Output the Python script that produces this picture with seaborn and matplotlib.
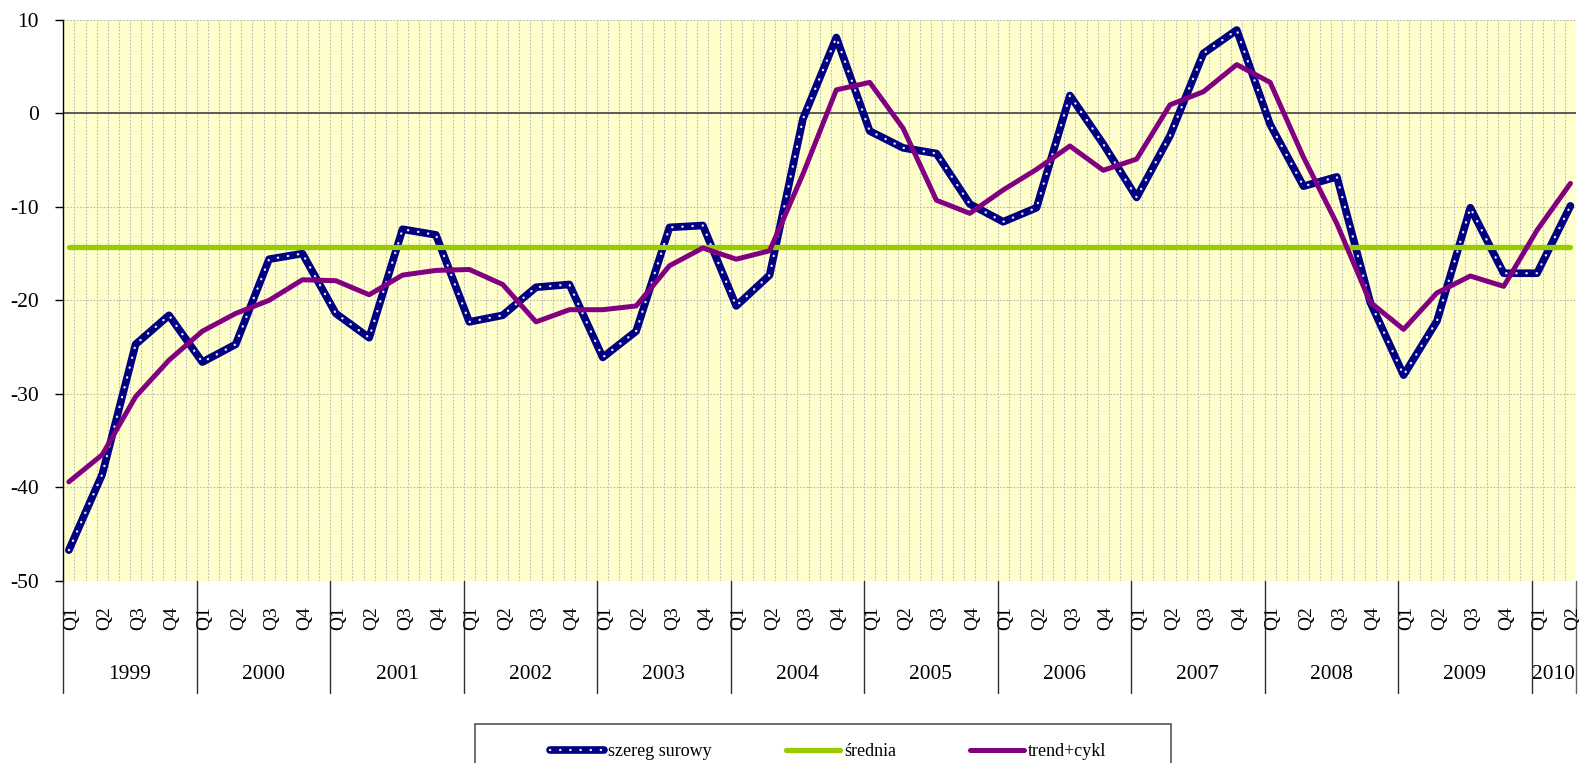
import matplotlib
matplotlib.use("Agg")
import matplotlib.pyplot as plt
from matplotlib.lines import Line2D
from matplotlib.patches import Rectangle
import numpy as np
import pandas as pd
import seaborn as sns

# ---------------- data ----------------
years = ["1999", "2000", "2001", "2002", "2003", "2004", "2005",
         "2006", "2007", "2008", "2009", "2010"]
quarters = ["Q1", "Q2", "Q3", "Q4"]

szereg_surowy = [-46.7, -38.6, -24.7, -21.6,
                 -26.6, -24.7, -15.6, -15.0,
                 -21.4, -24.0, -12.4, -13.0,
                 -22.3, -21.6, -18.6, -18.3,
                 -26.1, -23.3, -12.2, -12.0,
                 -20.6, -17.3, -0.6, 8.1,
                 -1.9, -3.7, -4.3, -9.7,
                 -11.6, -10.1, 1.9, -3.3,
                 -9.0, -2.4, 6.4, 8.9,
                 -1.2, -7.8, -6.8, -20.2,
                 -28.0, -22.2, -10.1, -17.1,
                 -17.1, -9.9]

trend_cykl = [-39.4, -36.5, -30.3, -26.4,
              -23.3, -21.4, -20.0, -17.8,
              -17.9, -19.4, -17.3, -16.8,
              -16.7, -18.3, -22.3, -21.0,
              -21.0, -20.6, -16.3, -14.4,
              -15.6, -14.7, -6.5, 2.5,
              3.3, -1.6, -9.3, -10.7,
              -8.2, -6.0, -3.5, -6.1,
              -4.9, 0.9, 2.3, 5.2,
              3.3, -4.7, -11.8, -20.2,
              -23.1, -19.2, -17.4, -18.5,
              -12.5, -7.5]

srednia_value = -14.3

n = len(szereg_surowy)
categories = [(years[i // 4], quarters[i % 4]) for i in range(n)]

# position on a monthly date-like axis (mid-month of the quarter's first month)
month_pos = np.array([3 * i + 0.5 for i in range(n)])

df = pd.DataFrame({
    "x": month_pos,
    "szereg surowy": szereg_surowy,
    "średnia": [srednia_value] * n,
    "trend+cykl": trend_cykl,
})

# ---------------- style ----------------
sns.set_theme(style="white")
plt.rcParams["font.family"] = ["Liberation Serif", "DejaVu Serif"]
plt.rcParams["axes.unicode_minus"] = False

W, H = 1579, 763
fig = plt.figure(figsize=(W / 100, H / 100), dpi=100)
fig.patch.set_facecolor("white")

left_px, right_px, top_px, bot_px = 63.3, 1576.0, 19.7, 581.0
ax = fig.add_axes([left_px / W, 1 - bot_px / H,
                   (right_px - left_px) / W, (bot_px - top_px) / H])
ax.set_facecolor("#FFFFCC")

NAVY = "#000080"
GREEN = "#99CC00"
PURPLE = "#800080"

# grid
grid_kw = dict(color="#b8b8b8", lw=0.8, ls=(0, (1.5, 1.5)), zorder=0.5)
for m in range(1, 136):
    ax.axvline(m, **grid_kw)
for yv in range(-50, 11, 10):
    ax.axhline(yv, **grid_kw)

# zero (category axis) line
ax.axhline(0, color="#505050", lw=1.3, zorder=1)

# series
sns.lineplot(data=df, x="x", y="szereg surowy", ax=ax, color=NAVY, lw=5.5,
             solid_joinstyle="round", solid_capstyle="round", zorder=3)
sns.lineplot(data=df, x="x", y="szereg surowy", ax=ax, color="#e8ecff", lw=1.7,
             linestyle=(0, (0.1, 4.2)), dash_capstyle="round", zorder=3.1)
sns.lineplot(data=df, x="x", y="średnia", ax=ax, color=GREEN, lw=3.8,
             solid_capstyle="round", zorder=4)
sns.lineplot(data=df, x="x", y="trend+cykl", ax=ax, color=PURPLE, lw=3.6,
             solid_joinstyle="round", solid_capstyle="round", zorder=5)

ax.set_xlim(0, 136)
ax.set_ylim(-50, 10)
ax.set_xlabel("")
ax.set_ylabel("")
ax.set_xticks([])
ax.set_yticks(range(-50, 11, 10))
ax.tick_params(axis="y", which="major", direction="out", length=6, width=1,
               color="black", pad=11.5, labelsize=15.5, left=True)
for lab in ax.get_yticklabels():
    lab.set_color("black")

for s in ["top", "right", "bottom"]:
    ax.spines[s].set_visible(False)
ax.spines["left"].set_color("black")
ax.spines["left"].set_linewidth(1.0)

# category labels
xtr = ax.get_xaxis_transform()
for i, (yr, q) in enumerate(categories):
    ax.text(month_pos[i] + 0.25, -0.066, q, rotation=90, ha="center",
            va="center", fontsize=14, color="black", transform=xtr)

# year separators and labels
year_lens = [min(4, n - 4 * k) for k in range(len(years))]
start = 0
for k, yr in enumerate(years):
    end = start + 3 * year_lens[k]
    ax.plot([start, start], [0, -0.2], transform=xtr, color="#303030",
            lw=1.0, clip_on=False)
    ax.text((start + min(end, 136)) / 2, -0.166, yr, ha="center", va="center",
            fontsize=15.4, color="black", transform=xtr)
    start = end
ax.plot([136, 136], [0, -0.2], transform=xtr, color="#606060", lw=1.0,
        clip_on=False)

# legend
h_raw = (Line2D([], [], color=NAVY, lw=5.5, solid_capstyle="round"),
         Line2D([], [], color="#e8ecff", lw=1.7, ls=(0, (0.1, 4.2)),
                dash_capstyle="round"))
h_avg = Line2D([], [], color=GREEN, lw=3.8)
h_tc = Line2D([], [], color=PURPLE, lw=3.6)
leg = fig.legend([h_raw, h_avg, h_tc], ["szereg surowy", "średnia", "trend+cykl"],
                 loc="center left", bbox_to_anchor=(550 / W, 1 - 752 / H),
                 ncol=3, frameon=False, fontsize=13, handlelength=3.0,
                 handletextpad=0.22, columnspacing=4.1, borderpad=0,
                 borderaxespad=0)
for t in leg.get_texts():
    t.set_color("black")

fig.patches.append(Rectangle((475 / W, -0.05), (1171 - 475) / W,
                             (1 - 724 / H) + 0.05, transform=fig.transFigure,
                             fill=False, ec="#555555", lw=1.2))

fig.savefig("out.png", dpi=100)
